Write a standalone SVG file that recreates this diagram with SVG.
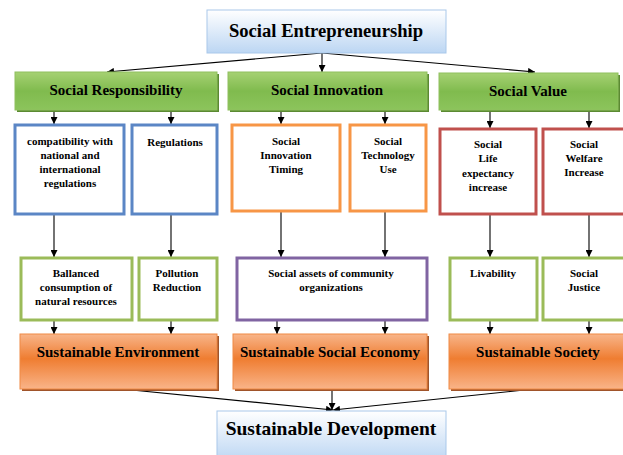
<svg xmlns="http://www.w3.org/2000/svg" width="623" height="455" viewBox="0 0 623 455">
<defs>
<linearGradient id="gBlue" x1="0" y1="0" x2="0" y2="1">
<stop offset="0" stop-color="#ffffff"/><stop offset="1" stop-color="#bcd6f3"/>
</linearGradient>
<linearGradient id="gGreen" x1="0" y1="0" x2="0" y2="1">
<stop offset="0" stop-color="#a6d173"/><stop offset="0.5" stop-color="#80bb4e"/><stop offset="1" stop-color="#8cc45c"/>
</linearGradient>
<linearGradient id="gOrange" x1="0" y1="0" x2="0" y2="1">
<stop offset="0" stop-color="#f8b58a"/><stop offset="0.45" stop-color="#ef7d31"/><stop offset="1" stop-color="#f9b489"/>
</linearGradient>
<marker id="ah" viewBox="0 0 10 10" refX="10" refY="5" markerWidth="7" markerHeight="7" orient="auto-start-reverse" markerUnits="userSpaceOnUse">
<path d="M0,0 L10,5 L0,10 z" fill="#000"/>
</marker>
</defs>
<style>
text{font-family:"Liberation Serif","Times New Roman",serif;font-weight:bold;fill:#000;text-anchor:middle}
.big{font-size:18.6px}
.bot{font-size:19.5px}
.mid{font-size:15px}
.sm{font-size:11px}
.blue{fill:url(#gBlue);stroke:#a9c8ea;stroke-width:1}
.green{fill:url(#gGreen);stroke:#8fc05e;stroke-width:1}
.gsh{fill:#5b8a32}
.orange{fill:url(#gOrange);stroke:#f08a45;stroke-width:1}
.osh{fill:#a0542a}
.bb{fill:#fff;stroke:#5b86c5;stroke-width:3}
.ob{fill:#fff;stroke:#f79646;stroke-width:3}
.rb{fill:#fff;stroke:#c0504d;stroke-width:3}
.lg{fill:#fff;stroke:#9bbb59;stroke-width:3}
.pb{fill:#fff;stroke:#8064a2;stroke-width:3}
.c line{stroke:#000;stroke-width:1.1;marker-end:url(#ah)}
</style>

<g id="connectors" class="c">
<line x1="322" y1="53" x2="107" y2="72"/>
<line x1="322" y1="53" x2="322" y2="72"/>
<line x1="322" y1="53" x2="535" y2="72"/>
<line x1="54" y1="110" x2="54" y2="124"/>
<line x1="171" y1="110" x2="171" y2="124"/>
<line x1="281" y1="110" x2="281" y2="124"/>
<line x1="385" y1="110" x2="385" y2="124"/>
<line x1="490" y1="110" x2="490" y2="128"/>
<line x1="589" y1="110" x2="589" y2="128"/>
<line x1="54" y1="215" x2="54" y2="257"/>
<line x1="171" y1="215" x2="171" y2="257"/>
<line x1="281" y1="212" x2="281" y2="257"/>
<line x1="385" y1="212" x2="385" y2="257"/>
<line x1="490" y1="215" x2="490" y2="257"/>
<line x1="589" y1="215" x2="589" y2="257"/>
<line x1="54" y1="321" x2="54" y2="334"/>
<line x1="171" y1="321" x2="171" y2="334"/>
<line x1="277" y1="321" x2="277" y2="334"/>
<line x1="385" y1="321" x2="385" y2="334"/>
<line x1="490" y1="321" x2="490" y2="334"/>
<line x1="589" y1="321" x2="589" y2="334"/>
<line x1="112" y1="388" x2="333" y2="410"/>
<line x1="332" y1="389" x2="332" y2="410"/>
<line x1="543" y1="388" x2="333" y2="410"/>
</g>

<g id="social-entrepreneurship">
<rect class="blue" x="207" y="10" width="239" height="43"/>
<text class="big" x="326" y="37">Social Entrepreneurship</text>
</g>

<g id="social-responsibility">
<rect class="gsh" x="17" y="74" width="202" height="38"/>
<rect class="green" x="15" y="72" width="202" height="38"/>
<text class="mid" x="116" y="95">Social Responsibility</text>
</g>
<g id="social-innovation">
<rect class="gsh" x="230" y="74" width="199" height="38"/>
<rect class="green" x="228" y="72" width="199" height="38"/>
<text class="mid" x="327" y="95">Social Innovation</text>
</g>
<g id="social-value">
<rect class="gsh" x="441" y="75" width="179" height="37"/>
<rect class="green" x="439" y="73" width="179" height="37"/>
<text class="mid" x="528" y="96">Social Value</text>
</g>

<g id="compatibility">
<rect class="bb" x="15" y="125" width="109" height="89"/>
<text class="sm" x="70" y="145">compatibility with</text>
<text class="sm" x="70" y="159">national and</text>
<text class="sm" x="70" y="173">international</text>
<text class="sm" x="70" y="187">regulations</text>
</g>
<g id="regulations">
<rect class="bb" x="132" y="125" width="85" height="89"/>
<text class="sm" x="175" y="146">Regulations</text>
</g>
<g id="innovation-timing">
<rect class="ob" x="232" y="125" width="108" height="86"/>
<text class="sm" x="286" y="145">Social</text>
<text class="sm" x="286" y="159">Innovation</text>
<text class="sm" x="286" y="173">Timing</text>
</g>
<g id="technology-use">
<rect class="ob" x="350" y="125" width="76" height="86"/>
<text class="sm" x="388" y="145">Social</text>
<text class="sm" x="388" y="159">Technology</text>
<text class="sm" x="388" y="173">Use</text>
</g>
<g id="life-expectancy">
<rect class="rb" x="440" y="129" width="96" height="85"/>
<text class="sm" x="488" y="148">Social</text>
<text class="sm" x="488" y="162">Life</text>
<text class="sm" x="488" y="177">expectancy</text>
<text class="sm" x="488" y="191">increase</text>
</g>
<g id="welfare-increase">
<rect class="rb" x="543" y="129" width="84" height="85"/>
<text class="sm" x="584" y="148">Social</text>
<text class="sm" x="584" y="162">Welfare</text>
<text class="sm" x="584" y="176">Increase</text>
</g>

<g id="ballanced-consumption">
<rect class="lg" x="21" y="258" width="111" height="62"/>
<text class="sm" x="76" y="277">Ballanced</text>
<text class="sm" x="76" y="291">consumption of</text>
<text class="sm" x="76" y="305">natural resources</text>
</g>
<g id="pollution-reduction">
<rect class="lg" x="139" y="258" width="78" height="62"/>
<text class="sm" x="177" y="277">Pollution</text>
<text class="sm" x="177" y="291">Reduction</text>
</g>
<g id="social-assets">
<rect class="pb" x="237" y="258" width="190" height="62"/>
<text class="sm" x="331" y="277">Social assets of community</text>
<text class="sm" x="331" y="291">organizations</text>
</g>
<g id="livability">
<rect class="lg" x="450" y="258" width="87" height="62"/>
<text class="sm" x="493" y="277">Livability</text>
</g>
<g id="social-justice">
<rect class="lg" x="543" y="258" width="84" height="62"/>
<text class="sm" x="584" y="277">Social</text>
<text class="sm" x="584" y="291">Justice</text>
</g>

<g id="sustainable-environment">
<rect class="osh" x="22" y="336" width="197" height="55"/>
<rect class="orange" x="20" y="334" width="197" height="55"/>
<text class="mid" x="118" y="357">Sustainable Environment</text>
</g>
<g id="sustainable-social-economy">
<rect class="osh" x="235" y="336" width="194" height="55"/>
<rect class="orange" x="233" y="334" width="194" height="55"/>
<text class="mid" x="330" y="357">Sustainable Social Economy</text>
</g>
<g id="sustainable-society">
<rect class="osh" x="451" y="336" width="180" height="55"/>
<rect class="orange" x="449" y="334" width="180" height="55"/>
<text class="mid" x="538" y="357">Sustainable Society</text>
</g>

<g id="sustainable-development">
<rect class="blue" x="217" y="411" width="229" height="50"/>
<text class="bot" x="331" y="435">Sustainable Development</text>
</g>
</svg>
